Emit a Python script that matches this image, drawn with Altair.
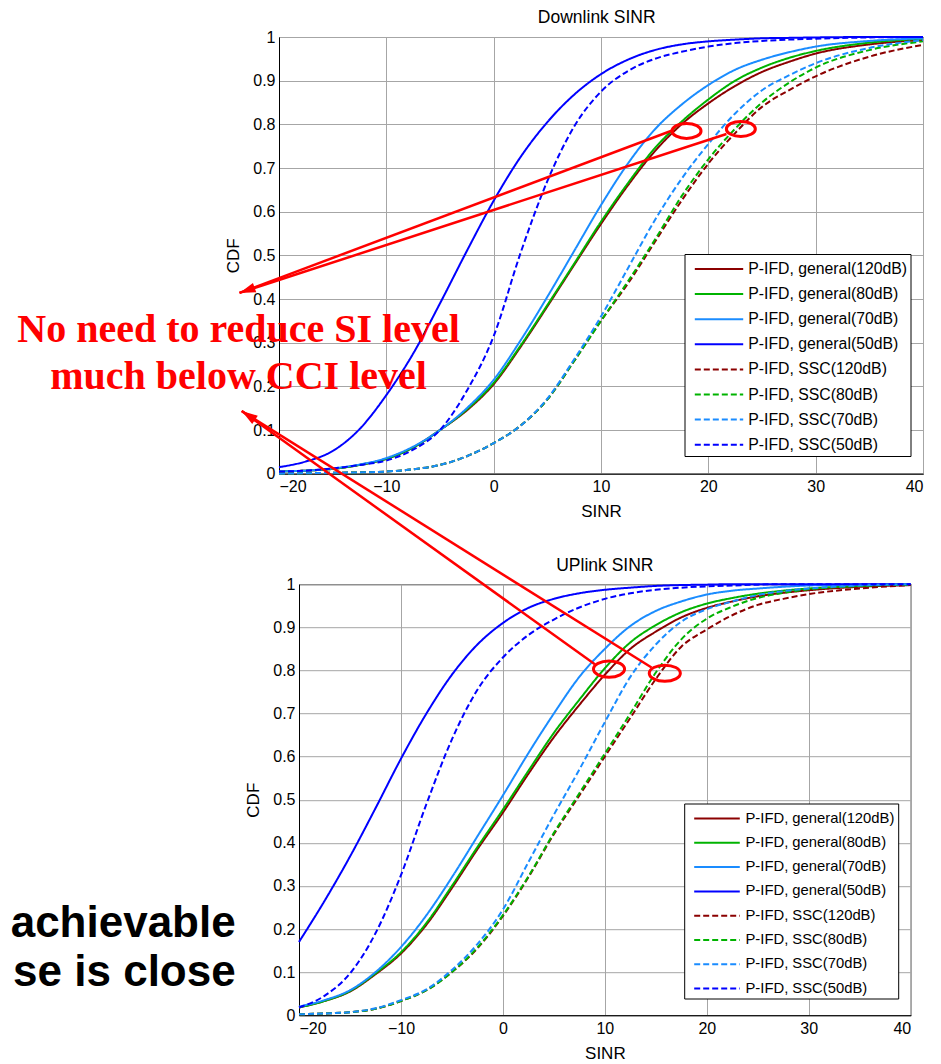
import altair as alt
import pandas as pd

# ---------------- data ----------------
sinr = [-20, -17.5, -15, -12.5, -10, -7.5, -5, -2.5, 0, 2.5, 5, 7.5, 10,
        12.5, 15, 17.5, 20, 22.5, 25, 27.5, 30, 35, 40]

series_names = ["P-IFD, general(120dB)", "P-IFD, general(80dB)",
                "P-IFD, general(70dB)", "P-IFD, general(50dB)",
                "P-IFD, SSC(120dB)", "P-IFD, SSC(80dB)",
                "P-IFD, SSC(70dB)", "P-IFD, SSC(50dB)"]
series_colors = ["#8b0000", "#00b300", "#1a8cff", "#0000ff",
                 "#8b0000", "#00b300", "#1a8cff", "#0000ff"]
series_dashes = [[1, 0], [1, 0], [1, 0], [1, 0], [6, 3], [6, 3], [6, 3], [6, 3]]

x_ticks = [-20, -10, 0, 10, 20, 30, 40]
y_ticks = [0, 0.1, 0.2, 0.3, 0.4, 0.5, 0.6, 0.7, 0.8, 0.9, 1]

# Downlink SINR CDFs
dl_general_120 = [0.005, 0.007, 0.011, 0.02, 0.034, 0.06, 0.1, 0.145, 0.205, 0.29, 0.383, 0.478, 0.572,
                  0.66, 0.738, 0.8, 0.848, 0.888, 0.92, 0.943, 0.962, 0.983, 0.993]
dl_general_80 = [0.005, 0.007, 0.011, 0.02, 0.034, 0.06, 0.1, 0.147, 0.208, 0.293, 0.386, 0.481, 0.577,
                 0.665, 0.745, 0.806, 0.857, 0.9, 0.93, 0.952, 0.968, 0.987, 0.996]
dl_general_70 = [0.005, 0.007, 0.012, 0.021, 0.036, 0.062, 0.1, 0.15, 0.215, 0.305, 0.405, 0.51, 0.615,
                 0.71, 0.788, 0.845, 0.89, 0.925, 0.948, 0.965, 0.978, 0.991, 0.997]
dl_general_50 = [0.015, 0.028, 0.052, 0.102, 0.18, 0.275, 0.39, 0.51, 0.625, 0.725, 0.805, 0.868, 0.915,
                 0.948, 0.97, 0.983, 0.99, 0.994, 0.997, 0.998, 0.999, 1.0, 1.0]
dl_ssc_120 = [0.0, 0.001, 0.002, 0.003, 0.005, 0.01, 0.02, 0.04, 0.07, 0.11, 0.17, 0.258, 0.35,
              0.435, 0.53, 0.625, 0.71, 0.78, 0.84, 0.878, 0.91, 0.955, 0.982]
dl_ssc_80 = [0.0, 0.001, 0.002, 0.003, 0.005, 0.01, 0.02, 0.04, 0.07, 0.11, 0.17, 0.258, 0.35,
             0.44, 0.535, 0.635, 0.72, 0.79, 0.85, 0.895, 0.93, 0.97, 0.99]
dl_ssc_70 = [0.0, 0.001, 0.002, 0.003, 0.005, 0.01, 0.02, 0.04, 0.07, 0.11, 0.172, 0.262, 0.36,
             0.47, 0.58, 0.675, 0.755, 0.825, 0.878, 0.912, 0.94, 0.975, 0.993]
dl_ssc_50 = [0.005, 0.007, 0.012, 0.02, 0.03, 0.055, 0.1, 0.19, 0.315, 0.505, 0.67, 0.795, 0.875,
             0.922, 0.95, 0.966, 0.978, 0.986, 0.991, 0.994, 0.996, 0.999, 1.0]

# Uplink SINR CDFs
ul_general_120 = [0.018, 0.033, 0.055, 0.095, 0.143, 0.21, 0.295, 0.385, 0.47, 0.56, 0.645, 0.72, 0.79,
                  0.85, 0.89, 0.923, 0.945, 0.96, 0.972, 0.98, 0.986, 0.994, 0.998]
ul_general_80 = [0.018, 0.033, 0.056, 0.097, 0.146, 0.214, 0.3, 0.39, 0.477, 0.567, 0.655, 0.732, 0.805,
                 0.865, 0.905, 0.935, 0.955, 0.968, 0.978, 0.985, 0.99, 0.996, 0.999]
ul_general_70 = [0.02, 0.035, 0.058, 0.1, 0.158, 0.232, 0.32, 0.415, 0.51, 0.608, 0.7, 0.785, 0.85,
                 0.903, 0.938, 0.96, 0.976, 0.985, 0.99, 0.994, 0.997, 0.999, 1.0]
ul_general_50 = [0.17, 0.265, 0.368, 0.48, 0.595, 0.7, 0.79, 0.86, 0.91, 0.945, 0.966, 0.979, 0.987,
                 0.992, 0.996, 0.998, 0.999, 1.0, 1.0, 1.0, 1.0, 1.0, 1.0]
ul_ssc_120 = [0.002, 0.004, 0.007, 0.015, 0.033, 0.058, 0.1, 0.155, 0.23, 0.32, 0.42, 0.51, 0.6,
              0.69, 0.78, 0.855, 0.895, 0.928, 0.952, 0.966, 0.977, 0.99, 0.998]
ul_ssc_80 = [0.002, 0.004, 0.007, 0.015, 0.033, 0.058, 0.1, 0.157, 0.232, 0.322, 0.423, 0.515, 0.607,
             0.7, 0.795, 0.872, 0.92, 0.948, 0.968, 0.98, 0.988, 0.996, 0.999]
ul_ssc_70 = [0.002, 0.004, 0.007, 0.016, 0.035, 0.06, 0.105, 0.165, 0.245, 0.355, 0.465, 0.57, 0.68,
             0.785, 0.86, 0.913, 0.942, 0.96, 0.975, 0.984, 0.99, 0.997, 1.0]
ul_ssc_50 = [0.018, 0.045, 0.097, 0.19, 0.325, 0.49, 0.64, 0.755, 0.83, 0.882, 0.918, 0.946, 0.966,
             0.979, 0.987, 0.992, 0.995, 0.997, 0.999, 1.0, 1.0, 1.0, 1.0]

# annotations (data coordinates of each panel)
dl_circle_sinr = [17.97, 23.03]
dl_circle_cdf = [0.785, 0.7895]
dl_arrow_sinr = [16.76, 21.69]
dl_arrow_cdf = [0.787, 0.7778]
dl_tip_sinr = [-23.68]
dl_tip_cdf = [0.414]
note_text = ["No need to reduce SI level", "much below CCI level"]
note_sinr = [-23.77, -23.77]
note_cdf = [0.3017, 0.194]

ul_circle_sinr = [10.41, 15.88]
ul_circle_cdf = [0.803, 0.7935]
ul_arrow_sinr = [9.02, 14.58]
ul_arrow_cdf = [0.8144, 0.8067]
ul_tip_sinr = [-25.62]
ul_tip_cdf = [1.4019]
side_text = ["achievable", "se is close"]
side_sinr = [-26.21, -26.21]
side_cdf = [0.1803, 0.0689]

ELLIPSE = "M-1.45,0A1.45,0.75 0 1,0 1.45,0A1.45,0.75 0 1,0 -1.45,0Z"
ARROW = "M0,0L0.5,1.6L-0.5,1.6Z"


def long_df(cols):
    rows = []
    for name, vals in zip(series_names, cols):
        for x, y in zip(sinr, vals):
            rows.append({"SINR": x, "CDF": y, "series": name})
    return pd.DataFrame(rows)


def legend_for(lx, ly, font_size, label_offset, path, row_pad):
    return alt.Legend(title=None, orient="none", legendX=lx, legendY=ly,
                      symbolType=path, symbolSize=484, symbolStrokeWidth=2,
                      labelFontSize=font_size, labelFont="Liberation Sans",
                      labelColor="black", labelOffset=label_offset, labelLimit=400,
                      rowPadding=row_pad, padding=3, strokeColor="black",
                      fillColor="white")


def curves(df, legend):
    return alt.Chart(df).mark_line(strokeWidth=2, interpolate="monotone").encode(
        x=alt.X("SINR:Q", scale=alt.Scale(domain=[-20, 40], nice=False, zero=False),
                axis=alt.Axis(values=x_ticks, format="d", title="SINR",
                              labelPadding=5, titlePadding=9)),
        y=alt.Y("CDF:Q", scale=alt.Scale(domain=[0, 1], nice=False, zero=False),
                axis=alt.Axis(values=y_ticks, format="~g", title="CDF",
                              labelPadding=4, titlePadding=10)),
        color=alt.Color("series:N", scale=alt.Scale(domain=series_names, range=series_colors),
                        legend=legend),
        strokeDash=alt.StrokeDash("series:N",
                                  scale=alt.Scale(domain=series_names, range=series_dashes),
                                  legend=legend),
    )


def xy_chart(sx, cy, extra=None):
    d = {"SINR": sx, "CDF": cy}
    if extra:
        d.update(extra)
    return alt.Chart(pd.DataFrame(d))


# ---------------- top panel: Downlink ----------------
dl_df = long_df([dl_general_120, dl_general_80, dl_general_70, dl_general_50,
                 dl_ssc_120, dl_ssc_80, dl_ssc_70, dl_ssc_50])
dl_legend = legend_for(405.5, 217, 15.8, 36.7, "M-1.091,0M-0.427,0H3.973", 5.1)

dl_lines = curves(dl_df, dl_legend)
dl_title = xy_chart([9.6], [1.044], {"t": ["Downlink SINR"]}).mark_text(
    fontSize=17.5, font="Liberation Sans", color="black", align="center", baseline="middle"
).encode(x="SINR:Q", y="CDF:Q", text="t:N")
dl_anchor = xy_chart([10], [1.0623]).mark_point(opacity=0, size=1).encode(x="SINR:Q", y="CDF:Q")
dl_rules = xy_chart(dl_arrow_sinr, dl_arrow_cdf,
                    {"SINR2": dl_tip_sinr * 2, "CDF2": dl_tip_cdf * 2}).mark_rule(
    color="red", strokeWidth=2.5).encode(x="SINR:Q", y="CDF:Q", x2="SINR2:Q", y2="CDF2:Q")
dl_circles = xy_chart(dl_circle_sinr, dl_circle_cdf).mark_point(
    shape=ELLIPSE, size=400, filled=False, color="red", strokeWidth=3, opacity=1
).encode(x="SINR:Q", y="CDF:Q")
dl_head = xy_chart(dl_tip_sinr, dl_tip_cdf).mark_point(
    shape=ARROW, size=400, filled=True, color="red", opacity=1, angle=250.7
).encode(x="SINR:Q", y="CDF:Q")
dl_note = xy_chart(note_sinr, note_cdf, {"t": note_text}).mark_text(
    font="Liberation Serif", fontWeight="bold", fontSize=40, color="red",
    align="center", baseline="alphabetic"
).encode(x="SINR:Q", y="CDF:Q", text="t:N")

top = alt.layer(dl_lines, dl_title, dl_anchor, dl_circles, dl_rules, dl_head, dl_note).properties(
    width=644, height=436.7)

# ---------------- bottom panel: Uplink ----------------
ul_df = long_df([ul_general_120, ul_general_80, ul_general_70, ul_general_50,
                 ul_ssc_120, ul_ssc_80, ul_ssc_70, ul_ssc_50])
ul_legend = legend_for(405.2, 219.3, 14.8, 34.3, "M-1.091,0M-0.455,0H3.69", 5.3)

ul_lines = curves(ul_df, ul_legend)
ul_title = xy_chart([10], [1.0427], {"t": ["UPlink SINR"]}).mark_text(
    fontSize=17.5, font="Liberation Sans", color="black", align="center", baseline="middle"
).encode(x="SINR:Q", y="CDF:Q", text="t:N")
ul_anchor = xy_chart([-48.36], [0.5]).mark_point(opacity=0, size=1).encode(x="SINR:Q", y="CDF:Q")
ul_rules = xy_chart(ul_arrow_sinr, ul_arrow_cdf,
                    {"SINR2": ul_tip_sinr * 2, "CDF2": ul_tip_cdf * 2}).mark_rule(
    color="red", strokeWidth=2.5).encode(x="SINR:Q", y="CDF:Q", x2="SINR2:Q", y2="CDF2:Q")
ul_circles = xy_chart(ul_circle_sinr, ul_circle_cdf).mark_point(
    shape=ELLIPSE, size=460, filled=False, color="red", strokeWidth=3, opacity=1
).encode(x="SINR:Q", y="CDF:Q")
ul_head = xy_chart(ul_tip_sinr, ul_tip_cdf).mark_point(
    shape=ARROW, size=400, filled=True, color="red", opacity=1, angle=303.8
).encode(x="SINR:Q", y="CDF:Q")
ul_side = xy_chart(side_sinr, side_cdf, {"t": side_text}).mark_text(
    font="Liberation Sans", fontWeight="bold", fontSize=44, color="black",
    align="right", baseline="alphabetic"
).encode(x="SINR:Q", y="CDF:Q", text="t:N")

bottom = alt.layer(ul_lines, ul_title, ul_anchor, ul_side, ul_circles, ul_rules, ul_head).properties(
    width=611.7, height=431)

spacer = alt.Chart(pd.DataFrame({"v": [0]})).mark_point(opacity=0).encode(
    x=alt.value(0), y=alt.value(0)
).properties(width=19.8, height=431, view=alt.ViewBackground(strokeOpacity=0))

bottom_row = alt.hconcat(spacer, bottom, spacing=0, bounds="flush")

chart = alt.vconcat(top, bottom_row, spacing=110.2, bounds="flush").resolve_scale(
    color="independent", strokeDash="independent"
).resolve_legend(
    color="independent", strokeDash="independent"
).properties(padding=0).configure(
    font="Liberation Sans"
).configure_view(
    stroke="black", strokeWidth=1
).configure_axis(
    labelFont="Liberation Sans", labelFontSize=16, labelColor="black",
    titleFont="Liberation Sans", titleFontSize=17, titleFontWeight="normal",
    titleColor="black", domainColor="black", domainWidth=1,
    gridColor="#a6a6a6", gridOpacity=1, gridWidth=1, ticks=False, grid=True
)

chart.save("out.html", embed_options={"renderer": "svg", "actions": False})
